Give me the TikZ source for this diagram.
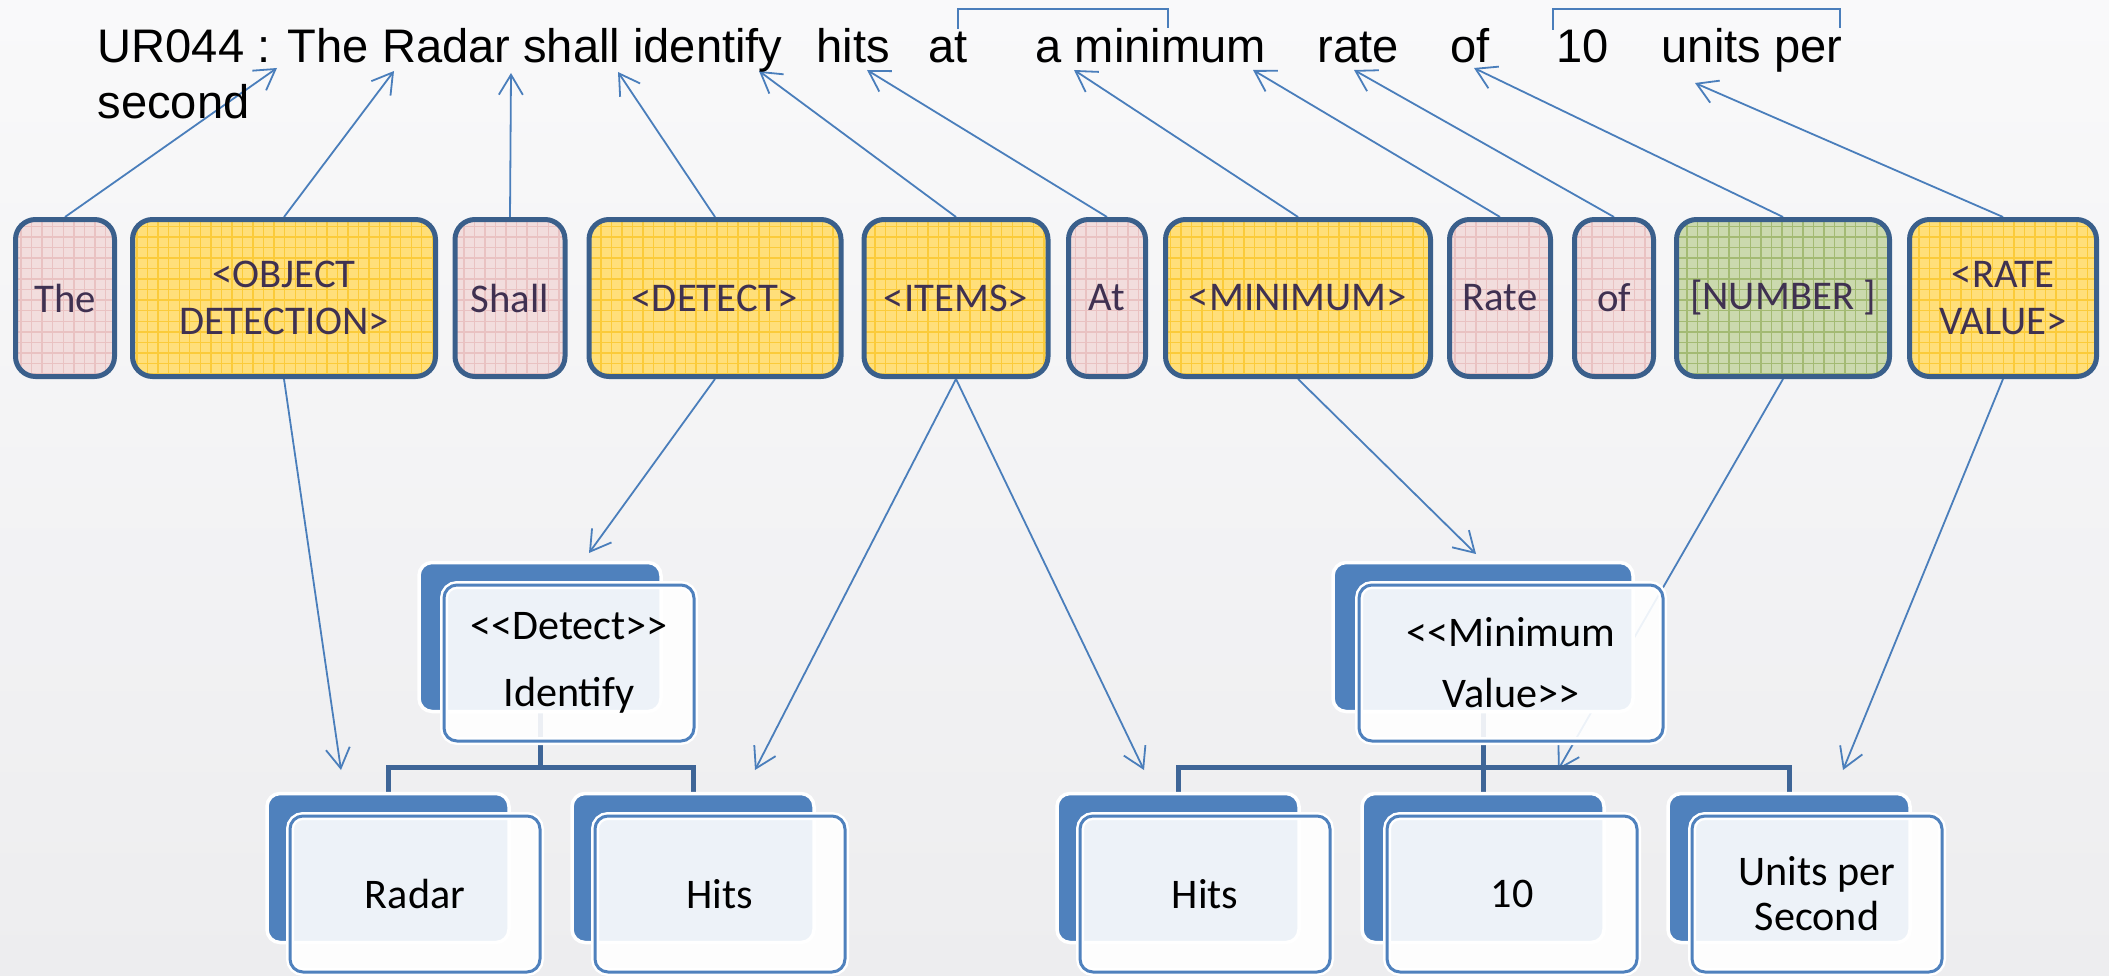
\documentclass[tikz,border=0pt]{standalone}
\usepackage{fontspec}
\setmainfont{Liberation Sans}
\newfontfamily\calibri{Carlito}
\usetikzlibrary{arrows.meta,patterns}

\definecolor{edgeblue}{HTML}{3A5F8B}
\definecolor{arrowblue}{HTML}{4A7EBB}
\definecolor{tileblue}{HTML}{4F81BD}
\definecolor{stemblue}{HTML}{3E6597}
\definecolor{pinkfill}{HTML}{F2DDDD}
\definecolor{pinkgrid}{HTML}{E9C2C2}
\definecolor{yellowfill}{HTML}{FFDF7A}
\definecolor{yellowgrid}{HTML}{FBCB3A}
\definecolor{greenfill}{HTML}{CBD9AE}
\definecolor{greengrid}{HTML}{A3BA73}
\definecolor{boxtext}{HTML}{3F3151}
\definecolor{papertop}{HTML}{F9F9FA}
\definecolor{paperbottom}{HTML}{EDEDEF}

\pgfdeclarelayer{paper}
\pgfdeclarelayer{links}
\pgfsetlayers{paper,links,main}

\tikzset{
	word/.style={anchor=base west, inner sep=0pt, font=\fontsize{13.4}{16}\selectfont},
	slotbox/.style={draw=edgeblue, line width=0.05cm, rounded corners=0.2cm, inner sep=0pt,
		minimum height=1.57cm, text=boxtext, align=center, font=\calibri\fontsize{11.6}{13.6}\selectfont},
	pinkbox/.style={slotbox, preaction={fill=pinkfill}, pattern=grid, pattern color=pinkgrid},
	yellowbox/.style={slotbox, preaction={fill=yellowfill}, pattern=grid, pattern color=yellowgrid},
	greenbox/.style={slotbox, preaction={fill=greenfill}, pattern=grid, pattern color=greengrid},
	backtile/.style={fill=tileblue, draw=white, line width=0.035cm, rounded corners=0.13cm, inner sep=0pt,
		minimum width=2.42cm, minimum height=1.49cm},
	fronttile/.style={fill=white, fill opacity=0.9, text opacity=1, draw=tileblue, line width=0.03cm,
		preaction={draw=white, line width=0.08cm}, rounded corners=0.13cm, inner sep=0pt,
		minimum width=2.5cm, minimum height=1.56cm, align=center, font=\calibri\fontsize{12}{19}\selectfont},
	pointer/.style={draw=arrowblue, line width=0.018cm, -{Straight Barb[length=0.2cm, width=0.24cm]}},
	stem/.style={draw=stemblue, line width=0.05cm},
	bracket/.style={draw=arrowblue, line width=0.018cm}
}

\begin{document}
\begin{tikzpicture}[x=0.1mm, y=-0.1mm]
	%%%%% START %%%%%
	\useasboundingbox (0,0) rectangle (2109,975);
	\begin{pgfonlayer}{paper}
		\shade[top color=papertop, bottom color=paperbottom] (0,0) rectangle (2109,975);
	\end{pgfonlayer}
	
	% requirement text
	\node[word] (wLead) at (97,63) {UR044 : The Radar shall identify};
	\node[word] (wHits) at (816,63) {hits};
	\node[word] (wAt) at (928,63) {at};
	\node[word] (wMinimum) at (1035,63) {a minimum};
	\node[word] (wRate) at (1317,63) {rate};
	\node[word] (wOf) at (1450,63) {of};
	\node[word] (wTen) at (1556,63) {10};
	\node[word] (wUnits) at (1661,63) {units per};
	\node[word] (wSecond) at (97,118) {second};
	
	\draw[bracket] (958,29) -- (958,9) -- (1168,9) -- (1168,28);
	\draw[bracket] (1553,30) -- (1553,9) -- (1840,9) -- (1840,28);
	
	% template slots
	\node[pinkbox, minimum width=0.99cm] (bThe) at (65,298) {The};
	\node[yellowbox, minimum width=3.03cm] (bObject) at (284,298) {<OBJECT\\DETECTION>};
	\node[pinkbox, minimum width=1.10cm] (bShall) at (510,298) {Shall};
	\node[yellowbox, minimum width=2.52cm] (bDetect) at (715,298) {<DETECT>};
	\node[yellowbox, minimum width=1.84cm] (bItems) at (956,298) {<ITEMS>};
	\node[pinkbox, minimum width=0.77cm] (bAt) at (1107,298) {At};
	\node[yellowbox, minimum width=2.65cm] (bMinimum) at (1298,298) {<MINIMUM>};
	\node[pinkbox, minimum width=1.01cm] (bRate) at (1500,298) {Rate};
	\node[pinkbox, minimum width=0.79cm] (bOf) at (1614,298) {of};
	\node[greenbox, minimum width=2.13cm] (bNumber) at (1783,298) {[NUMBER ]};
	\node[yellowbox, minimum width=1.87cm] (bRateValue) at (2003,298) {<RATE\\VALUE>};
	
	% detect tree
	\node[backtile] (detectBack) at (540,637) {};
	\node[fronttile] (detectFront) at (569,663) {<<Detect>>\\Identify};
	\node[backtile] (radarBack) at (388,868) {};
	\node[fronttile] (radarFront) at (415,894) {Radar};
	\node[backtile] (hitsLBack) at (693,868) {};
	\node[fronttile] (hitsLFront) at (720,894) {Hits};
	
	% minimum value tree
	\node[backtile, minimum width=3.0cm] (minBack) at (1483,637) {};
	\node[fronttile, minimum width=3.04cm, font=\calibri\fontsize{12}{17.4}\selectfont] (minFront) at (1511,663) {<<Minimum\\Value>>};
	\node[backtile] (hitsRBack) at (1178,868) {};
	\node[fronttile] (hitsRFront) at (1205,894) {Hits};
	\node[backtile] (tenBack) at (1483,868) {};
	\node[fronttile] (tenFront) at (1512,894) {10};
	\node[backtile] (unitsBack) at (1789,868) {};
	\node[fronttile, font=\calibri\fontsize{12}{12.8}\selectfont] (unitsFront) at (1817,894) {Units per\\Second};
	
	\coordinate (tThe) at (277,68);
	\coordinate (tObject) at (394,71);
	\coordinate (tShall) at (511,73);
	\coordinate (tDetect) at (618,72);
	\coordinate (tItems) at (759,71);
	\coordinate (tAt) at (867,70);
	\coordinate (tMinimum) at (1074,70);
	\coordinate (tRate) at (1253,70);
	\coordinate (tOf) at (1354,70);
	\coordinate (tNumber) at (1474,68);
	\coordinate (tRateValue) at (1695,83);
	
	\coordinate (dRadar) at (341,770);
	\coordinate (dDetect) at (589,553);
	\coordinate (dHitsL) at (755,770);
	\coordinate (dHitsR) at (1144,770);
	\coordinate (dMinimum) at (1476,554);
	\coordinate (dTen) at (1558,770);
	\coordinate (dUnits) at (1843,770);
	
	\coordinate (barL) at (540,767);
	\coordinate (barR) at (1483,767);
	
	\begin{pgfonlayer}{links}
		\draw[pointer] (bThe.north) -- (tThe);
		\draw[pointer] (bObject.north) -- (tObject);
		\draw[pointer] (bShall.north) -- (tShall);
		\draw[pointer] (bDetect.north) -- (tDetect);
		\draw[pointer] (bItems.north) -- (tItems);
		\draw[pointer] (bAt.north) -- (tAt);
		\draw[pointer] (bMinimum.north) -- (tMinimum);
		\draw[pointer] (bRate.north) -- (tRate);
		\draw[pointer] (bOf.north) -- (tOf);
		\draw[pointer] (bNumber.north) -- (tNumber);
		\draw[pointer] (bRateValue.north) -- (tRateValue);
		
		\draw[pointer] (bObject.south) -- (dRadar);
		\draw[pointer] (bDetect.south) -- (dDetect);
		\draw[pointer] (bItems.south) -- (dHitsL);
		\draw[pointer] (bItems.south) -- (dHitsR);
		\draw[pointer] (bMinimum.south) -- (dMinimum);
		\draw[pointer] (bNumber.south) -- (dTen);
		\draw[pointer] (bRateValue.south) -- (dUnits);
		
		\draw[stem] (detectBack.south) -- (barL);
		\draw[stem] (radarBack.north) |- (barL) -| (hitsLBack.north);
		\draw[stem] (minBack.south) -- (tenBack.north);
		\draw[stem] (hitsRBack.north) |- (barR) -| (unitsBack.north);
	\end{pgfonlayer}
	%%%%% END %%%%%
\end{tikzpicture}
\end{document}
